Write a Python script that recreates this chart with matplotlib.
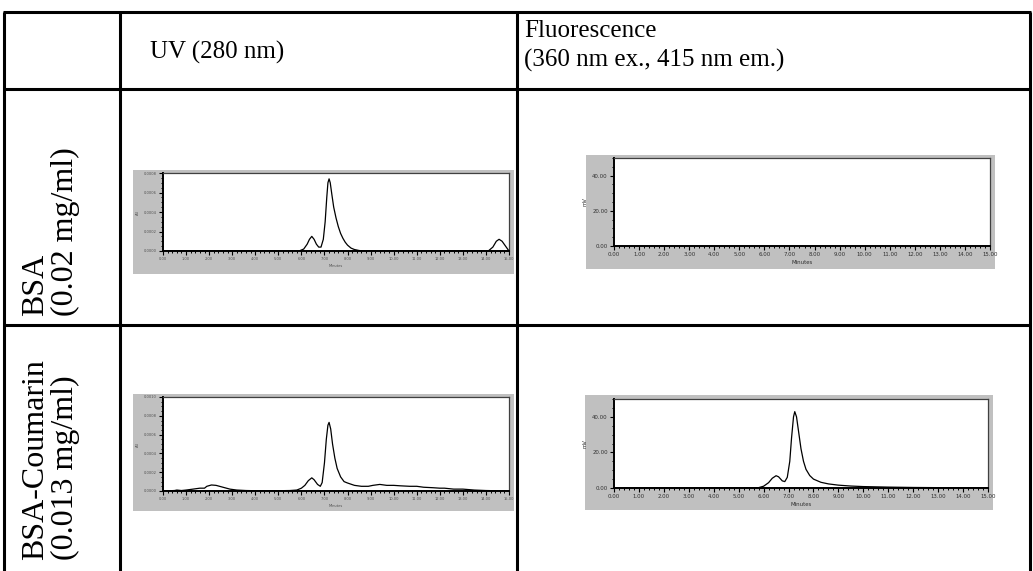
import numpy as np
import matplotlib.pyplot as plt
from matplotlib.patches import Rectangle
from matplotlib.ticker import MultipleLocator, FixedLocator, FuncFormatter

W, H = 1033, 571

# retention time (min) vs detector response for each run
bsa_uv_time = [0.0, 5.9, 6.1, 6.25, 6.35, 6.45, 6.55, 6.65, 6.75, 6.85, 6.95, 7.03, 7.1,
               7.15, 7.2, 7.25, 7.32, 7.4, 7.5, 7.6, 7.7, 7.8, 7.9, 8.0, 8.15, 8.3, 8.5,
               8.7, 14.1, 14.3, 14.45, 14.57, 14.7, 14.85, 15.0]
bsa_uv_au = [0.0, 0.0, 0.00002, 0.00007, 0.00012, 0.00015, 0.00012, 0.00007, 0.00004,
             0.00004, 0.00012, 0.0003, 0.00055, 0.0007, 0.00074, 0.0007, 0.00058, 0.00045,
             0.00034, 0.00025, 0.00018, 0.00013, 0.00009, 0.00006, 0.00003, 0.000015,
             0.000005, 0.0, 0.0, 0.00004, 0.0001, 0.00012, 0.0001, 0.00005, 0.0]

bsa_fl_time = [0.0, 15.0]
bsa_fl_mv = [0.0, 0.0]

conj_uv_time = [0.0, 0.5, 0.6, 0.8, 1.0, 1.3, 1.6, 1.8, 1.9, 2.1, 2.3, 2.6, 2.9, 3.2, 3.6,
                4.0, 4.5, 5.0, 5.5, 5.8, 6.0, 6.15, 6.3, 6.45, 6.55, 6.7, 6.82, 6.9, 7.0,
                7.08, 7.15, 7.2, 7.27, 7.35, 7.45, 7.55, 7.7, 7.85, 8.0, 8.3, 8.6, 8.9, 9.1,
                9.4, 9.7, 10.0, 10.3, 10.7, 11.0, 11.3, 11.7, 12.0, 12.2, 12.6, 13.0, 13.5,
                14.0, 15.0]
conj_uv_au = [0.0, 0.000005, 0.00001, 0.000005, 0.00001, 0.00002, 0.00003, 0.00003, 0.00005,
              0.000064, 0.00006, 0.00004, 0.00002, 0.00001, 0.000005, 0.000003, 0.000002,
              0.000003, 0.000005, 0.00001, 0.00003, 0.00006, 0.00011, 0.00014, 0.00012,
              0.00007, 0.00005, 0.00009, 0.0003, 0.00055, 0.0007, 0.00073, 0.00066, 0.0005,
              0.00035, 0.00024, 0.00015, 0.0001, 0.000085, 0.00006, 0.00005, 0.00005,
              0.00006, 0.00007, 0.00006, 0.00006, 0.000055, 0.00005, 0.00005, 0.00004,
              0.000035, 0.00003, 0.00003, 0.00002, 0.00002, 0.00001, 0.000005, 0.0]

conj_fl_time = [0.0, 3.5, 4.0, 5.0, 5.8, 6.0, 6.2, 6.35, 6.5, 6.6, 6.75, 6.85, 6.95, 7.05,
                7.12, 7.2, 7.25, 7.32, 7.4, 7.5, 7.6, 7.7, 7.85, 8.0, 8.3, 8.6, 9.0, 9.5,
                10.0, 11.0, 12.0, 13.0, 15.0]
conj_fl_mv = [0.0, 0.0, 0.2, 0.1, 0.2, 1.0, 3.0, 5.5, 6.9, 6.3, 4.0, 3.6, 6.0, 15.0, 28.0,
              40.0, 42.9, 40.0, 32.0, 22.0, 15.0, 10.5, 7.0, 5.0, 3.2, 2.3, 1.6, 1.1, 0.8,
              0.5, 0.3, 0.2, 0.1]

uv_ticks_top = [0.0, 0.0002, 0.0004, 0.0006, 0.0008]
uv_ticks_bottom = [0.0, 0.0002, 0.0004, 0.0006, 0.0008, 0.0010]
fl_ticks = [0.0, 20.0, 40.0]

col_headers = ['UV (280 nm)', 'Fluorescence\n(360 nm ex., 415 nm em.)']
row_names = ['BSA', 'BSA-Coumarin']
row_conc = ['(0.02 mg/ml)', '(0.013 mg/ml)']


def fig_rect(x0, y0, x1, y1):
    return [x0 / W, 1 - y1 / H, (x1 - x0) / W, (y1 - y0) / H]


fig = plt.figure(figsize=(W / 100, H / 100), dpi=100)
page = fig.add_axes([0, 0, 1, 1])
page.set_xlim(0, W)
page.set_ylim(H, 0)
page.axis('off')

# table grid
xs = [4, 120, 517, 1030]
ys = [12, 89, 325]
for x in xs:
    page.plot([x, x], [ys[0], H + 5], color='black', lw=2.2, solid_capstyle='butt')
for y in ys:
    page.plot([xs[0] - 1, xs[-1] + 1], [y, y], color='black', lw=2.2, solid_capstyle='butt')

serif = 'Liberation Serif'
page.text(150, 52, col_headers[0], fontsize=18, family=serif, ha='left', va='center')
page.text(524, 46, col_headers[1], fontsize=18, family=serif, ha='left', va='center',
          linespacing=1.35)

# row labels read bottom-to-top; the second row runs down to the lower edge
for bottom, name, conc in zip([316, 560], row_names, row_conc):
    page.text(36, bottom, name, fontsize=23, family=serif, rotation=90,
              rotation_mode='anchor', ha='left', va='center')
    page.text(65, bottom, conc, fontsize=23, family=serif, rotation=90,
              rotation_mode='anchor', ha='left', va='center')


def chromatogram(grey, plot, t, y, ymax, yticks, yfmt, ylabel, minor_y, fsize, fcolor):
    page.add_patch(Rectangle((grey[0], grey[1]), grey[2] - grey[0], grey[3] - grey[1],
                             facecolor='#c0c0c0', edgecolor='none'))
    ax = fig.add_axes(fig_rect(*plot))
    ax.plot(t, y, color='black', lw=0.9)
    ax.set_xlim(0, 15)
    ax.set_ylim(0, ymax)
    ax.xaxis.set_major_locator(MultipleLocator(1))
    ax.xaxis.set_minor_locator(MultipleLocator(0.2))
    ax.xaxis.set_major_formatter(FuncFormatter(lambda v, p: f'{v:.2f}'))
    ax.yaxis.set_major_locator(FixedLocator(yticks))
    ax.yaxis.set_minor_locator(MultipleLocator(minor_y))
    ax.yaxis.set_major_formatter(FuncFormatter(lambda v, p: yfmt.format(v)))
    ax.tick_params(which='major', direction='out', length=3, width=0.8, pad=1.5,
                   labelsize=fsize, labelcolor=fcolor)
    ax.tick_params(which='minor', direction='out', length=1.6, width=0.7)
    for side in ['left', 'bottom']:
        ax.spines[side].set_linewidth(1.4)
    for side in ['top', 'right']:
        ax.spines[side].set_linewidth(0.9)
        ax.spines[side].set_color('#404040')
    ax.set_xlabel('Minutes', fontsize=fsize, color=fcolor, labelpad=2)
    ax.set_ylabel(ylabel, fontsize=fsize, color=fcolor, labelpad=3)
    return ax


chromatogram((133, 170, 514, 274), (163, 173, 509, 251), bsa_uv_time, bsa_uv_au,
             0.0008, uv_ticks_top, '{:.4f}', 'AU', 0.00005, 2.6, '#505050')
chromatogram((586, 155, 995, 269), (614, 158, 990, 246), bsa_fl_time, bsa_fl_mv,
             50, fl_ticks, '{:.2f}', 'mV', 5, 3.9, '#303030')
chromatogram((133, 394, 514, 511), (163, 397, 509, 491), conj_uv_time, conj_uv_au,
             0.0010, uv_ticks_bottom, '{:.4f}', 'AU', 0.00005, 2.6, '#505050')
chromatogram((585, 395, 993, 510), (614, 399, 988, 488), conj_fl_time, conj_fl_mv,
             50, fl_ticks, '{:.2f}', 'mV', 5, 3.9, '#303030')

fig.savefig('out.png', dpi=100)
